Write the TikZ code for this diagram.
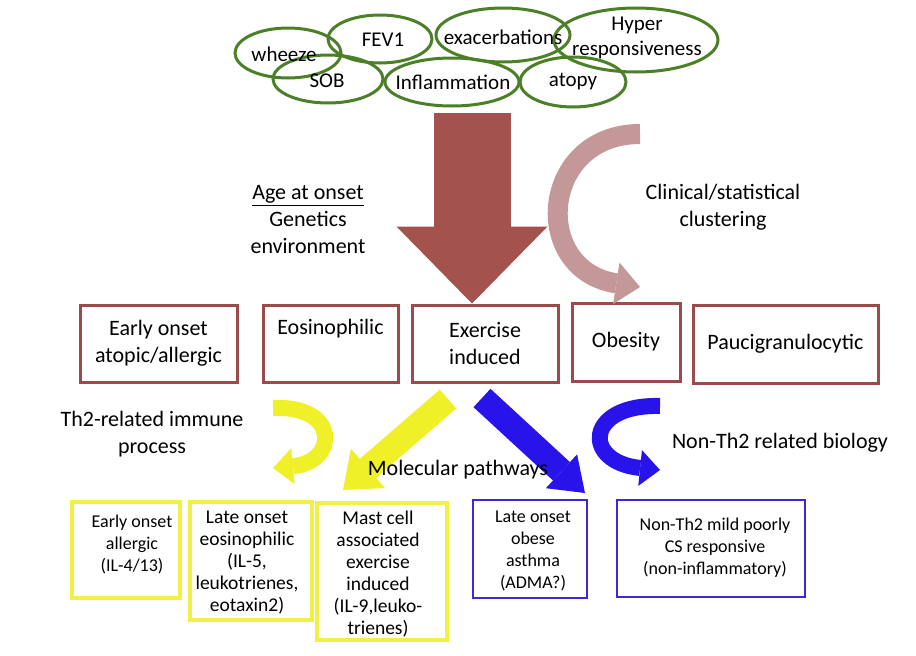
\documentclass[tikz,border=0pt]{standalone}
\usepackage{fontspec}
\setmainfont{Carlito}
\usetikzlibrary{shapes.geometric,arrows.meta}
\definecolor{ellgreen}{RGB}{76,128,40}
\definecolor{boxred}{RGB}{155,75,75}
\definecolor{bigred}{RGB}{163,82,78}
\definecolor{pinkarr}{RGB}{196,152,152}
\definecolor{yel}{RGB}{240,240,40}
\definecolor{yelbox}{RGB}{240,240,70}
\definecolor{blu}{RGB}{40,20,235}
\definecolor{blubox}{RGB}{60,40,215}
\tikzset{
  ell/.style={ellipse, draw=ellgreen, line width=3pt, inner sep=0pt},
  etxt/.style={font=\fontsize{21}{25}\selectfont, align=center, inner sep=0pt},
  midbox/.style={rectangle, draw=boxred, line width=3pt, inner sep=0pt,
    font=\fontsize{22}{27}\selectfont, align=center},
  lbl/.style={font=\fontsize{22}{27}\selectfont, align=center, inner sep=0pt},
  ybox/.style={rectangle, draw=yelbox, line width=3.5pt, inner sep=0pt},
  bbox/.style={rectangle, draw=blubox, line width=2.5pt, inner sep=0pt},
  btxt/.style={font=\fontsize{18}{22}\selectfont, align=center, inner sep=0pt, anchor=north},
  btxtl/.style={font=\fontsize{19.5}{22}\selectfont, align=center, inner sep=0pt, anchor=north},
}
\begin{document}
\begin{tikzpicture}[x=1pt,y=-1pt]
\useasboundingbox (0,0) rectangle (916,656);
\fill[white] (0,0) rectangle (916,656);

% ---- top ellipses
\node[ell, minimum width=106pt, minimum height=50pt] (wheeze) at (288,53) {};
\node[ell, minimum width=104pt, minimum height=48pt] (fev) at (380,39) {};
\node[ell, minimum width=134pt, minimum height=54pt] (exac) at (503,35) {};
\node[ell, minimum width=164pt, minimum height=64pt] (hyper) at (636,40) {};
\node[ell, minimum width=110pt, minimum height=48pt] (sob) at (328,79) {};
\node[ell, minimum width=134pt, minimum height=48pt] (infl) at (452,82) {};
\node[ell, minimum width=106pt, minimum height=50pt] (atopy) at (573,82) {};
\node[etxt] (wheezet) at (284,54) {wheeze};
\node[etxt] (fevt) at (383,40) {FEV1};
\node[etxt] (exact) at (503,37) {exacerbations};
\node[etxt] (hypert) at (637,38) {Hyper\\responsiveness};
\node[etxt] (sobt) at (327,81) {SOB};
\node[etxt] (inflt) at (453,82) {Inflammation};
\node[etxt] (atopyt) at (573,82) {atopy};

% ---- middle boxes
\node[midbox, minimum width=157pt, minimum height=77pt] (early) at (158.5,343.5) {Early onset\\atopic/allergic};
\node[midbox, minimum width=135pt, minimum height=77pt] (eos) at (330.5,343.5) {};
\node[lbl] (eost) at (330.5,329) {Eosinophilic};
\node[midbox, minimum width=146pt, minimum height=77pt] (ex) at (485,343.5) {Exercise\\induced};
\node[midbox, minimum width=108pt, minimum height=78pt] (ob) at (626,342) {Obesity};
\node[midbox, minimum width=185pt, minimum height=78pt] (pauci) at (785.5,344) {Paucigranulocytic};

% ---- bottom boxes
\node[ybox, minimum width=108pt, minimum height=96pt] (b1) at (126,550) {};
\node[ybox, minimum width=122pt, minimum height=118pt] (b2) at (251,561) {};
\node[ybox, minimum width=130pt, minimum height=137pt] (b3) at (382,571.5) {};
\node[bbox, minimum width=114pt, minimum height=98pt] (b4) at (530,549) {};
\node[bbox, minimum width=188pt, minimum height=97pt] (b5) at (711,548.5) {};
\node[btxt] (b1t) at (132,515) {Early onset\\allergic\\(IL-4/13)};
\node[btxtl] (b2t) at (247,511) {Late onset\\eosinophilic\\(IL-5,\\leukotrienes,\\eotaxin2)};
\node[btxtl] (b3t) at (378,511) {Mast cell\\associated\\exercise\\induced\\(IL-9,leuko-\\trienes)};
\node[btxt] (b4t) at (533,511) {Late onset\\obese\\asthma\\(ADMA?)};
\node[btxt] (b5t) at (715,518) {Non-Th2 mild poorly\\CS responsive\\(non-inflammatory)};

% ---- arrows
\coordinate (bigtail) at (472,113);
\draw[bigred, line width=77pt, -{Triangle[width=151pt,length=77pt,line width=0pt]}]
  (bigtail) -- (bigtail |- ex.north);

\coordinate (pktail) at (640,134);
\coordinate (pktip) at (640,287);
\draw[pinkarr, line width=20pt, -{Triangle[width=42pt,length=24pt,line width=0pt]}]
  (pktail) .. controls (540,134) and (530,270) .. (pktip);

\coordinate (yctail) at (273,408);
\coordinate (yctip) at (273,468);
\draw[yel, line width=16pt, -{Triangle[width=36pt,length=20pt,line width=0pt]}]
  (yctail) .. controls (340,405) and (338,462) .. (yctip);

\coordinate (ystail) at (448,399);
\coordinate (ystip) at (343,490);
\draw[yel, line width=25pt, -{Triangle[width=52pt,length=33pt,line width=0pt]}]
  (ystail) -- (ystip);

\coordinate (bstail) at (482,398);
\coordinate (bstip) at (585,493);
\draw[blu, line width=25pt, -{Triangle[width=46pt,length=32pt,line width=0pt]}]
  (bstail) -- (bstip);

\coordinate (bctail) at (660,406);
\coordinate (bctip) at (660,470);
\draw[blu, line width=16pt, -{Triangle[width=36pt,length=20pt,line width=0pt]}]
  (bctail) .. controls (585,404) and (582,462) .. (bctip);

% ---- labels
\node[lbl] (agelbl) at (308,220) {\underline{Age at onset}\\Genetics\\environment};
\node[lbl] (clinlbl) at (723,207.5) {Clinical/statistical\\clustering};
\node[lbl] (th2lbl) at (152,434.5) {Th2-related immune\\process};
\node[lbl] (mollbl) at (458,470) {Molecular pathways};
\node[lbl] (nonlbl) at (780,443) {Non-Th2 related biology};
\end{tikzpicture}
\end{document}
